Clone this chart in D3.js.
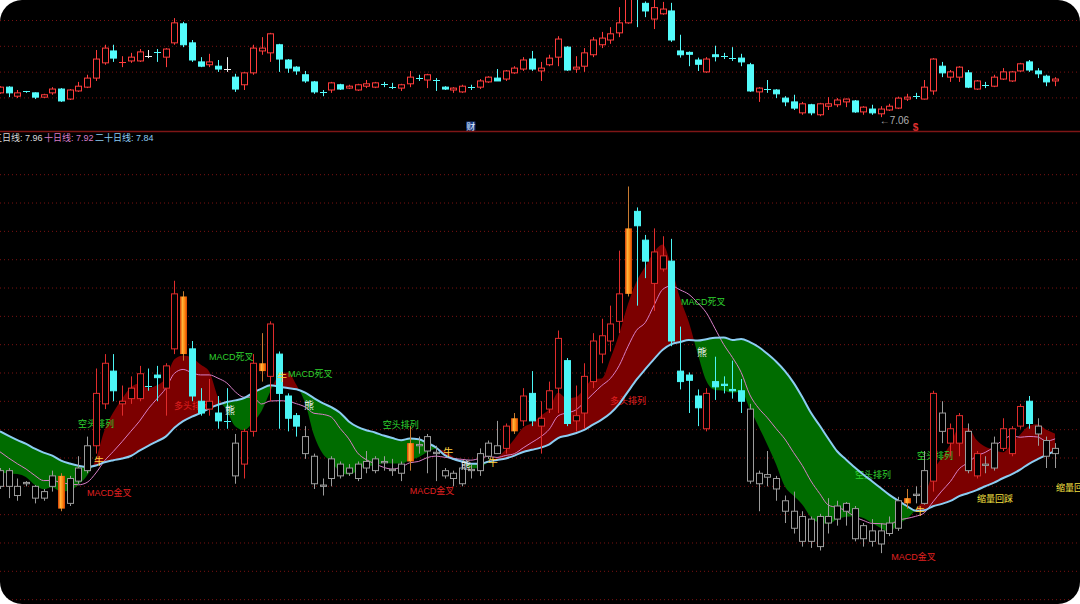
<!DOCTYPE html>
<html><head><meta charset="utf-8">
<script src="https://cdn.jsdelivr.net/npm/d3@7"></script>
<style>
html,body{margin:0;padding:0;background:#fff;}
svg{display:block;}
text{font-family:"Liberation Sans","Noto Sans CJK SC",sans-serif;}
</style></head><body>
<svg id="c" width="1080" height="604"></svg>
<script>
// ---- price data (one bar per session) ----
const opens = [7.57,7.69,7.50,7.60,7.57,7.48,7.57,7.65,7.44,7.61,
7.69,7.88,8.20,8.45,8.20,8.24,8.24,8.34,8.42,8.32,
8.62,9.02,8.62,8.22,8.16,8.13,8.07,7.90,7.74,7.99,
8.45,8.41,8.58,8.26,8.11,7.95,7.80,7.58,7.63,7.74,
7.67,7.63,7.71,7.69,7.76,7.70,7.67,7.76,7.89,7.84,
7.83,7.69,7.63,7.59,7.70,7.69,7.80,7.88,7.86,7.99,
8.07,8.28,8.03,8.16,8.32,8.53,8.07,8.13,8.37,8.58,
8.68,8.83,9.04,9.67,9.45,9.12,9.23,9.29,8.45,8.42,
8.26,8.01,8.37,8.35,8.31,8.30,8.16,7.59,7.66,7.63,
7.46,7.38,7.15,7.32,7.11,7.29,7.32,7.38,7.40,7.17,
7.23,7.13,7.21,7.25,7.44,7.51,7.44,7.61,8.13,7.90,
7.90,7.99,7.65,7.74,7.71,7.86,7.82,8.03,8.22,8.03,
7.92,7.82];
const highs = [7.71,7.71,7.63,7.61,7.58,7.55,7.69,7.67,7.65,7.80,
7.95,8.47,8.58,8.58,8.34,8.41,8.49,8.47,8.49,8.51,
9.14,9.06,8.68,8.32,8.39,8.26,8.32,7.97,8.01,8.58,
8.74,8.83,8.60,8.28,8.13,8.03,7.82,7.63,7.80,7.76,
7.74,7.76,7.84,7.80,7.80,7.78,7.76,8.03,7.95,7.97,
7.88,7.71,7.69,7.74,7.74,7.86,7.92,8.07,8.05,8.13,
8.32,8.45,8.22,8.37,8.76,8.55,8.34,8.51,8.74,8.85,
8.95,9.37,9.86,9.70,9.49,9.54,9.48,9.46,8.79,8.44,
8.31,8.32,8.56,8.41,8.53,8.39,8.20,7.69,7.84,7.65,
7.50,7.53,7.38,7.34,7.36,7.48,7.46,7.45,7.42,7.29,
7.32,7.29,7.34,7.49,7.55,7.57,7.84,8.30,8.22,8.05,
8.13,8.05,7.84,7.80,7.95,8.09,8.03,8.20,8.26,8.09,
7.95,7.90];
const lows = [7.55,7.48,7.46,7.57,7.44,7.46,7.53,7.38,7.42,7.59,
7.67,7.82,8.16,8.22,8.11,8.20,8.22,8.30,8.22,8.11,
8.58,8.53,8.22,8.11,8.11,8.01,8.01,7.59,7.63,7.95,
8.37,8.22,8.01,7.99,7.95,7.78,7.55,7.50,7.57,7.63,
7.65,7.61,7.67,7.67,7.69,7.65,7.61,7.69,7.82,7.67,
7.61,7.63,7.57,7.57,7.63,7.65,7.78,7.82,7.82,7.97,
8.03,8.03,7.82,8.13,8.13,8.03,7.99,8.01,8.32,8.51,
8.60,8.74,9.02,8.95,9.16,8.91,9.21,8.64,8.31,8.13,
8.03,7.99,8.23,8.28,8.24,8.13,7.59,7.38,7.57,7.46,
7.29,7.21,7.11,7.10,7.08,7.21,7.27,7.27,7.15,7.11,
7.11,7.06,7.19,7.23,7.40,7.44,7.43,7.53,7.90,7.80,
7.80,7.67,7.63,7.67,7.69,7.84,7.80,8.01,8.01,7.88,
7.71,7.71];
const closes = [7.69,7.57,7.57,7.59,7.48,7.53,7.65,7.40,7.63,7.71,
7.88,8.28,8.51,8.30,8.22,8.32,8.43,8.34,8.40,8.49,
9.04,8.58,8.26,8.13,8.22,8.07,8.07,7.65,7.99,8.51,
8.51,8.81,8.28,8.09,8.03,7.82,7.59,7.57,7.78,7.65,
7.71,7.74,7.76,7.78,7.75,7.69,7.74,7.90,7.88,7.95,
7.82,7.65,7.67,7.71,7.69,7.82,7.90,7.82,8.03,8.09,
8.26,8.07,8.09,8.30,8.70,8.05,8.11,8.41,8.68,8.72,
8.81,9.04,9.54,9.56,9.29,9.36,9.33,8.68,8.37,8.38,
8.17,8.28,8.33,8.34,8.30,8.22,7.61,7.67,7.64,7.55,
7.38,7.25,7.34,7.15,7.34,7.34,7.42,7.44,7.17,7.27,
7.15,7.23,7.29,7.46,7.48,7.50,7.69,8.28,7.99,8.01,
8.11,7.69,7.82,7.73,7.90,8.01,8.01,8.18,8.05,7.97,
7.80,7.86];
// closes of the 19 sessions before the visible window (needed for the moving averages)
const priorCloses = [8.26,8.22,8.18,8.20,8.13,8.11,8.16,8.09,8.05,8.07,8.05,8.01,7.99,7.97,7.92,7.63,7.59,7.71,7.78];

// ---- signals ----
const bullRanges = [[11,26],[28,34],[58,85],[107,107],[109,110],[112,112],[115,118]];
const signalBars = [7,21,30,47,59,72,104];
const maNames  = ["五日线","十日线","二十日线"];
const maValues = ["7.96","7.92","7.84"];
const lowMark = {i:101, text:"7.06"};
const events = [{i:54, t:"财"},{i:105, t:"$"}];
const noteText  = ["空头排列","MACD金叉","多头排列","MACD死叉","MACD死叉","空头排列","MACD金叉","多头排列","MACD死叉","空头排列","空头排列","MACD金叉","缩量回踩","缩量回踩"];
const noteIdx   = [8.94,9.98,19.95,23.97,33.03,43.9,47.0,69.95,78.1,98.05,105.16,102.2,112.04,121.1];
const notePrice = [8.05,7.52,8.18,8.56,8.43,8.04,7.535,8.22,8.98,7.66,7.80,7.03,7.47,7.56];
const noteKind  = ["bear","bull","bull","bear","bear","bear","bull","bull","bear","bear","bear","bull","pull","pull"];
const markText  = ["牛","牛","牛","牛","牛","熊","熊","熊","熊"];
const markIdx   = [11.35,32.34,51.4,56.5,105.5,26.38,35.44,53.4,80.5];
const markPrice = [7.76,8.40,7.83,7.75,7.38,8.15,8.19,7.73,8.59];

// ---- setup ----
const W=1080,H=604;
const svg=d3.select("#c");
const defs=svg.append("defs");
defs.append("clipPath").attr("id","frame").append("rect").attr("width",W).attr("height",H).attr("rx",22).attr("ry",22);
defs.append("clipPath").attr("id","topClip").append("rect").attr("width",W).attr("height",131);
const og=defs.append("linearGradient").attr("id","og").attr("x1",0).attr("x2",1).attr("y1",0).attr("y2",0);
[[0,"#d83a00"],[0.35,"#ffb43a"],[0.65,"#ff8a12"],[1,"#d84200"]].forEach(s=>og.append("stop").attr("offset",s[0]).attr("stop-color",s[1]));

const root=svg.append("g").attr("clip-path","url(#frame)");
root.append("rect").attr("width",W).attr("height",H).attr("fill","#000");

const n=closes.length;
const x=d3.scaleLinear().domain([0,n-1]).range([0,1055.1]);
const yT=d3.scaleLinear().domain([7.0,9.52]).range([120,0]);
const yB=d3.scaleLinear().domain([7.0,9.52]).range([561,231]);

const allC=priorCloses.concat(closes);
const off=priorCloses.length;
const ma=k=>closes.map((_,i)=>d3.mean(allC.slice(i+off-k+1,i+off+1)));
const ma5=ma(5), ma10=ma(10), ma20=ma(20);

const isBull=i=>bullRanges.some(r=>i>=r[0]&&i<=r[1]);
const isSig=i=>signalBars.includes(i);

function candles(g,yS,style){
  const bw=6;
  g.selectAll("g.k").data(d3.range(n)).join("g").attr("class","k").each(function(i){
    const s=style(i), gg=d3.select(this);
    const cx=Math.round(x(i))+0.5;
    const o=opens[i],c=closes[i];
    const yt=yS(Math.max(o,c)), yb=yS(Math.min(o,c));
    gg.append("line").attr("x1",cx).attr("x2",cx).attr("y1",yS(highs[i])).attr("y2",yS(lows[i]))
      .attr("stroke",s.wick||s.col).attr("stroke-width",1);
    if(s.sig){
      gg.append("rect").attr("x",cx-3.5).attr("y",yt).attr("width",7).attr("height",Math.max(2,yb-yt)).attr("fill","url(#og)");
    } else if(yb-yt<1.2){
      const yy=Math.round(yt)+0.5;
      gg.append("line").attr("x1",cx-bw/2-0.5).attr("x2",cx+bw/2+0.5).attr("y1",yy).attr("y2",yy).attr("stroke",s.col);
    } else {
      gg.append("rect").attr("x",cx-bw/2).attr("y",yt).attr("width",bw).attr("height",yb-yt)
        .attr("fill",s.fill).attr("stroke",s.col).attr("stroke-width",1);
    }
  });
}

// ---- top panel ----
const topG=root.append("g").attr("clip-path","url(#topClip)");
topG.selectAll("line.g").data(d3.range(4).map(k=>20.5+k*25.8)).join("line")
  .attr("x1",0).attr("x2",W).attr("y1",d=>d).attr("y2",d=>d)
  .attr("stroke","#7a1212").attr("stroke-dasharray","1,3");
candles(topG,yT,i=>{
  if(closes[i]>opens[i]) return {col:"#ff3c3c",fill:"#000"};
  if(closes[i]<opens[i]) return {col:"#54fcfc",fill:"#54fcfc"};
  return {col:"#f0f0f0",fill:"#f0f0f0"};
});
topG.append("text").attr("x",x(lowMark.i)-1).attr("y",yT(lows[lowMark.i])+3.5)
  .attr("dominant-baseline","central").attr("font-size",10).attr("fill","#b0b0b0").text("←"+lowMark.text);
events.forEach(e=>{
  if(e.t==="财"){
    topG.append("rect").attr("x",x(e.i)-4.5).attr("y",121.5).attr("width",9).attr("height",9).attr("fill","#1d3c86");
    topG.append("text").attr("x",x(e.i)).attr("y",126.5).attr("text-anchor","middle").attr("dominant-baseline","central")
      .attr("font-size",9).attr("fill","#dfe9ff").text(e.t);
  } else {
    topG.append("text").attr("x",x(e.i)).attr("y",127).attr("text-anchor","middle").attr("dominant-baseline","central")
      .attr("font-size",10).attr("font-weight","bold").attr("fill","#e03030").text(e.t);
  }
});
root.append("line").attr("x1",0).attr("x2",W).attr("y1",131.5).attr("y2",131.5).attr("stroke","#7e1616").attr("stroke-width",1.5);

// MA legend
const legCol=["#d8d8d8","#d77fc7","#8ccdf2"];
const legX=[-7,44,95];
maNames.forEach((nm,k)=>{
  root.append("text").attr("x",legX[k]).attr("y",137.5).attr("dominant-baseline","central")
    .attr("font-size",9).attr("fill",legCol[k]).text(nm+": "+maValues[k]);
});

// ---- bottom panel ----
const bot=root.append("g");
bot.selectAll("line.g").data(d3.range(16).map(k=>174.7+k*28.33)).join("line")
  .attr("x1",0).attr("x2",W).attr("y1",d=>d).attr("y2",d=>d)
  .attr("stroke","#7a1212").attr("stroke-dasharray","1,3");

const curve=d3.curveMonotoneX;
const idx=d3.range(n);
const band=d3.area().x(i=>x(i)).y0(i=>yB(ma20[i])).y1(i=>yB(ma5[i])).curve(curve);
const above=d3.area().x(i=>x(i)).y0(0).y1(i=>yB(ma20[i])).curve(curve);
const below=d3.area().x(i=>x(i)).y0(H).y1(i=>yB(ma20[i])).curve(curve);
defs.append("clipPath").attr("id","cAbove").append("path").attr("d",above(idx));
defs.append("clipPath").attr("id","cBelow").append("path").attr("d",below(idx));
bot.append("path").attr("d",band(idx)).attr("fill","#7c0000").attr("clip-path","url(#cAbove)");
bot.append("path").attr("d",band(idx)).attr("fill","#006c00").attr("clip-path","url(#cBelow)");

const noteCol={bear:"#2fd22f",bull:"#e02020",pull:"#f2e040"};
noteText.forEach((t,k)=>{
  bot.append("text").attr("x",x(noteIdx[k])).attr("y",yB(notePrice[k])).attr("dominant-baseline","central")
    .attr("font-size",9).attr("fill",noteCol[noteKind[k]]).text(t);
});

const line=d3.line().x(i=>x(i)).curve(curve);
bot.append("path").attr("d",line.y(i=>yB(ma10[i]))(idx)).attr("fill","none").attr("stroke","#d77fc7").attr("stroke-width",1);
bot.append("path").attr("d",line.y(i=>yB(ma20[i]))(idx)).attr("fill","none").attr("stroke","#8ccdf2").attr("stroke-width",2);

candles(bot,yB,i=>{
  if(isSig(i)) return {sig:true,col:"#d07020",wick:"#c87a30"};
  if(isBull(i)) return closes[i]>opens[i]?{col:"#e02c2c",fill:"#000"}:{col:"#4cf5f5",fill:"#4cf5f5"};
  return {col:"#9c9c9c",fill:"#000"};
});

markText.forEach((t,k)=>{
  bot.append("text").attr("x",x(markIdx[k])).attr("y",yB(markPrice[k])).attr("text-anchor","middle").attr("dominant-baseline","central")
    .attr("font-size",10).attr("fill",t==="牛"?"#ffd040":"#e8e8e8").text(t);
});
</script>
</body></html>
